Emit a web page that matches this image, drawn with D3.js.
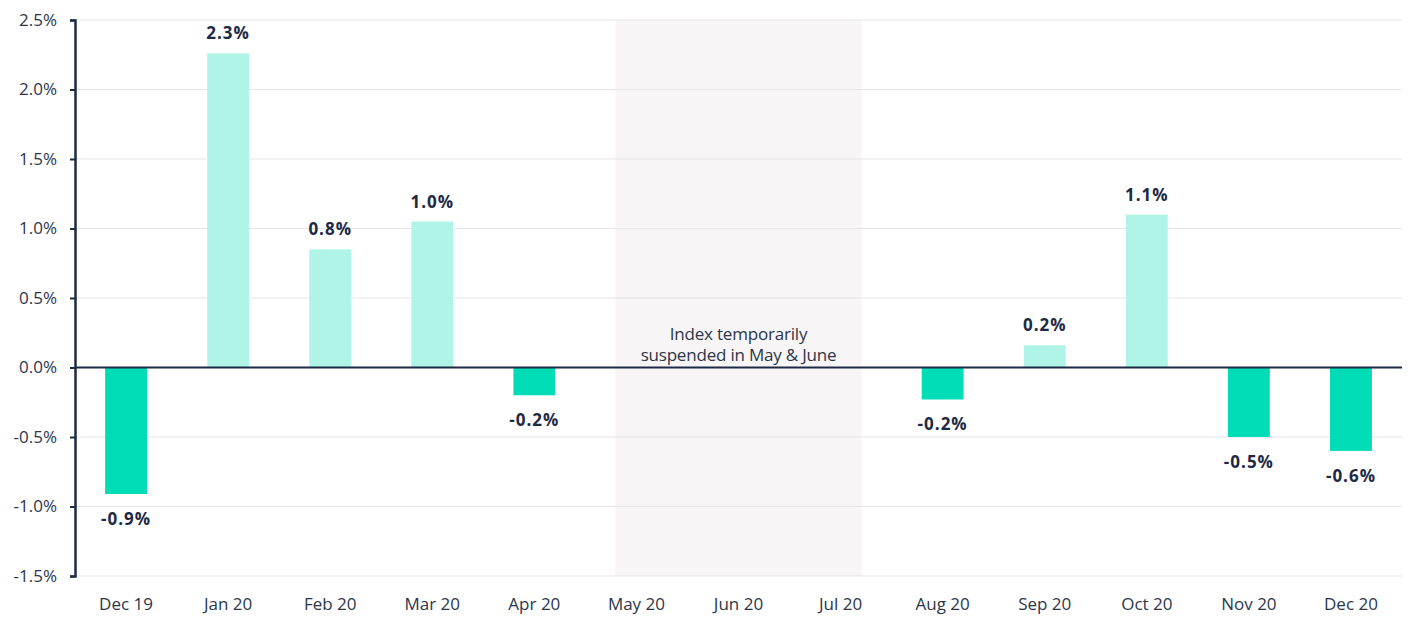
<!DOCTYPE html>
<html lang="en">
<head>
<meta charset="utf-8">
<title>Monthly change</title>
<script src="https://cdn.jsdelivr.net/npm/d3@7"></script>
<style>
  body { margin: 0; background: #fff; }
  text { font-family: "Open Sans", sans-serif; }
</style>
</head>
<body>
<div id="chart"></div>
<script>
const months = ["Dec 19", "Jan 20", "Feb 20", "Mar 20", "Apr 20", "May 20", "Jun 20", "Jul 20", "Aug 20", "Sep 20", "Oct 20", "Nov 20", "Dec 20"];
// null = index suspended
const changes = [-0.91, 2.26, 0.85, 1.05, -0.2, null, null, null, -0.23, 0.16, 1.1, -0.5, -0.6];
const labels = ["-0.9%", "2.3%", "0.8%", "1.0%", "-0.2%", null, null, null, "-0.2%", "0.2%", "1.1%", "-0.5%", "-0.6%"];
const yTicks = [-1.5, -1.0, -0.5, 0, 0.5, 1.0, 1.5, 2.0, 2.5];
const suspended = ["May 20", "Jul 20"];
const noteLines = ["Index temporarily", "suspended in May & June"];

let w = 1410, h = 617;
let mLeft = 75, mRight = 1402, mTop = 20, mBottom = 576;
let navy = "#1d2a44";
let grey = "#2c364a";

let data = months.map((m, i) => ({ month: m, value: changes[i], label: labels[i] }))
  .filter(d => d.value !== null);

let xScale = d3.scaleBand()
  .domain(months)
  .range([mLeft, mRight])
  .paddingInner(0.59)
  .paddingOuter(0.295);

let yScale = d3.scaleLinear()
  .domain([-1.5, 2.5])
  .range([mBottom, mTop]);

let svg = d3.select("#chart")
  .append("svg")
  .attr("width", w)
  .attr("height", h);

// suspended period
let x0 = xScale(suspended[0]);
let x1 = xScale(suspended[1]) + xScale.bandwidth();
svg.append("rect")
  .attr("x", x0)
  .attr("y", yScale(2.5))
  .attr("width", x1 - x0)
  .attr("height", yScale(-1.5) - yScale(2.5))
  .attr("fill", "#f7f5f5");

// gridlines
svg.append("g")
  .attr("class", "grid")
  .selectAll("line")
  .data(yTicks)
  .enter()
  .append("line")
  .attr("x1", mLeft)
  .attr("x2", mRight)
  .attr("y1", d => yScale(d))
  .attr("y2", d => yScale(d))
  .attr("stroke", "#e6e6e6")
  .attr("stroke-width", 1.2);

// bars
svg.append("g")
  .attr("class", "bars")
  .selectAll("rect")
  .data(data)
  .enter()
  .append("rect")
  .attr("x", d => xScale(d.month))
  .attr("y", d => yScale(Math.max(0, d.value)))
  .attr("width", xScale.bandwidth())
  .attr("height", d => Math.abs(yScale(d.value) - yScale(0)))
  .attr("fill", d => d.value >= 0 ? "#aff4e6" : "#00dcb6");

// value labels
svg.append("g")
  .attr("class", "labels")
  .selectAll("text")
  .data(data)
  .enter()
  .append("text")
  .attr("x", d => xScale(d.month) + xScale.bandwidth() / 2)
  .attr("y", d => d.value >= 0 ? yScale(d.value) - 14 : yScale(d.value) + 31)
  .attr("text-anchor", "middle")
  .attr("font-size", 17)
  .attr("font-weight", "bold")
  .attr("letter-spacing", 1)
  .attr("fill", navy)
  .text(d => d.label);

// note
let cx = (x0 + x1) / 2;
svg.append("g")
  .selectAll("text")
  .data(noteLines)
  .enter()
  .append("text")
  .attr("x", cx)
  .attr("y", (d, i) => yScale(0) - 28 + i * 21)
  .attr("text-anchor", "middle")
  .attr("font-size", 17)
  .attr("letter-spacing", -0.2)
  .attr("fill", grey)
  .text(d => d);

// zero line
svg.append("line")
  .attr("x1", mLeft)
  .attr("x2", mRight)
  .attr("y1", yScale(0))
  .attr("y2", yScale(0))
  .attr("stroke", navy)
  .attr("stroke-width", 2.2);

// y axis
let yAxis = d3.axisLeft(yScale)
  .tickValues(yTicks)
  .tickSize(5)
  .tickPadding(13)
  .tickFormat(d => d.toFixed(1) + "%");

let gy = svg.append("g")
  .attr("class", "y axis")
  .attr("transform", "translate(" + mLeft + ",0)")
  .call(yAxis);
gy.select(".domain").attr("stroke", navy).attr("stroke-width", 2.5);
gy.selectAll(".tick line").attr("stroke", navy).attr("stroke-width", 2);
gy.selectAll(".tick text")
  .attr("font-size", 17)
  .attr("fill", grey)
  .attr("font-family", "'Open Sans', sans-serif");

// x axis
let xAxis = d3.axisBottom(xScale)
  .tickSize(0)
  .tickPadding(22);

let gx = svg.append("g")
  .attr("class", "x axis")
  .attr("transform", "translate(0," + mBottom + ")")
  .call(xAxis);
gx.select(".domain").remove();
gx.selectAll(".tick text")
  .attr("font-size", 17)
  .attr("fill", grey)
  .attr("font-family", "'Open Sans', sans-serif");
</script>
</body>
</html>
